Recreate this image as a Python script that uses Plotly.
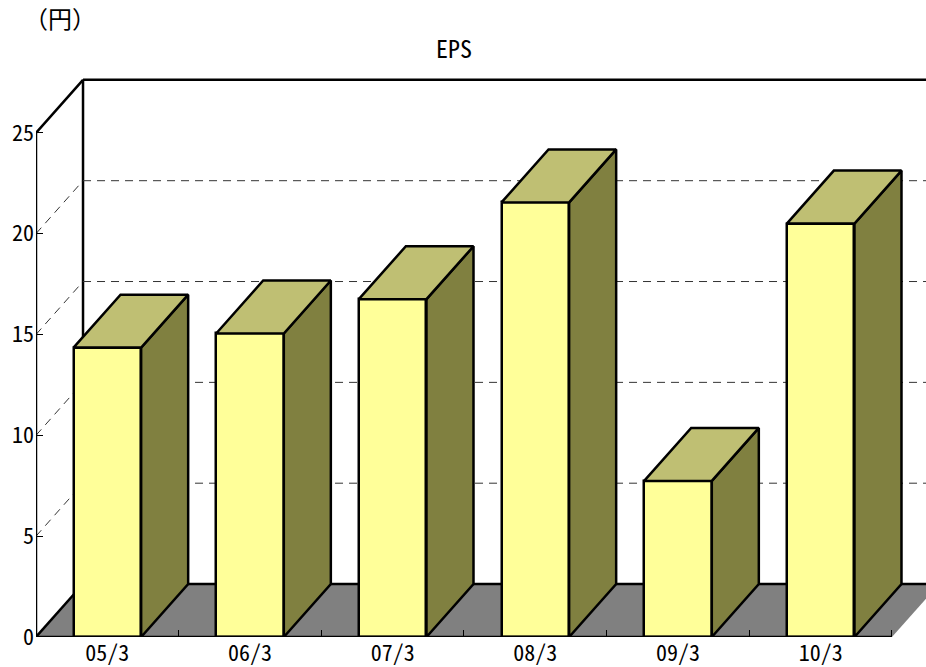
import plotly.graph_objects as go

categories = ["05/3", "06/3", "07/3", "08/3", "09/3", "10/3"]
eps_values = [14.35, 15.05, 16.75, 21.55, 7.74, 20.5]
y_ticks = [0, 5, 10, 15, 20, 25]

FONT = "Noto Sans Mono CJK JP, Noto Sans CJK JP"
PX_X = 142.6          # pixels per category
PX_Y = 20.18          # pixels per yen
DX = 47 / PX_X        # oblique depth, in x units
DY = 53 / PX_Y        # oblique depth, in y units
BAR_W = 67.6 / PX_X
X_LO, X_HI = -0.5, 5.5
LEFT, BOTTOM = 36.4, 29.6
W, H = 926, 667
LW = 2.5
x_max = X_LO + (W - LEFT) / PX_X
y_max = (H - BOTTOM) / PX_Y

idx = list(range(len(categories)))


def path(points):
    return "M" + " L".join(f"{x},{y}" for x, y in points) + " Z"


def seg(x0, y0, x1, y1, width=LW, dash="solid", color="black"):
    return dict(type="line", x0=x0, y0=y0, x1=x1, y1=y1, xref="x", yref="y", layer="below",
                line=dict(color=color, width=width, dash=dash))


top = y_ticks[-1]
shapes = [
    dict(type="path", xref="x", yref="y", layer="below", fillcolor="#808080", line=dict(width=0),
         path=path([(X_LO, 0), (X_HI, 0), (X_HI + DX, DY), (X_LO + DX, DY)])),
    seg(X_LO, 0, X_LO + DX, DY),
    seg(X_LO + DX, DY, x_max + 1, DY),
    seg(X_LO + DX, DY, X_LO + DX, top + DY),
    seg(X_LO + DX, top + DY, x_max + 1, top + DY),
]
for v in y_ticks[1:-1]:
    shapes.append(seg(X_LO + DX, v + DY, x_max + 1, v + DY, width=1, dash="8px,6px", color="#333333"))
    shapes.append(seg(X_LO, v, X_LO + DX, v + DY, width=1, dash="8px,6px", color="#333333"))

fig = go.Figure()

fig.add_trace(go.Bar(
    x=idx, y=eps_values, width=BAR_W, marker=dict(color="#FFFF99", line=dict(color="black", width=LW)),
    cliponaxis=False, showlegend=False, hoverinfo="skip",
))

for i, v in zip(idx, eps_values):
    xl, xr = i - BAR_W / 2, i + BAR_W / 2
    side_x = [xr, xr + DX, xr + DX, xr, xr]
    side_y = [0, DY, v + DY, v, 0]
    top_x = [xl, xr, xr + DX, xl + DX, xl]
    top_y = [v, v, v + DY, v + DY, v]
    fig.add_trace(go.Scatter(x=side_x, y=side_y, mode="lines", fill="toself", fillcolor="#808040",
                             line=dict(color="black", width=LW), cliponaxis=False,
                             showlegend=False, hoverinfo="skip"))
    fig.add_trace(go.Scatter(x=top_x, y=top_y, mode="lines", fill="toself", fillcolor="#BFBF73",
                             line=dict(color="black", width=LW), cliponaxis=False,
                             showlegend=False, hoverinfo="skip"))

# Left wall, its top slant and the front floor edge sit on the plot's border, so they are not clipped.
fig.add_trace(go.Scatter(x=[X_LO + DX, X_LO, X_LO, X_HI], y=[top + DY, top, 0, 0], mode="lines",
                         line=dict(color="black", width=LW), cliponaxis=False,
                         showlegend=False, hoverinfo="skip"))

fig.update_layout(
    width=W, height=H, autosize=False,
    margin=dict(l=LEFT, r=0, t=0, b=BOTTOM, pad=0),
    paper_bgcolor="white", plot_bgcolor="white",
    font=dict(family=FONT, size=22, color="black"),
    showlegend=False, shapes=shapes, bargap=0,
    title=dict(text="EPS", x=454 / W, y=1 - 50 / H, xanchor="center", yanchor="middle",
               font=dict(family=FONT, size=24, color="black")),
    xaxis=dict(range=[X_LO, x_max], tickvals=idx, ticktext=categories, ticks="outside", ticklen=0,
               showgrid=False, zeroline=False, showline=False, tickangle=0, ticklabelstandoff=-3,
               tickfont=dict(family=FONT, size=22),
               minor=dict(tickvals=[X_LO + k for k in range(len(categories) + 1)], ticks="inside",
                          ticklen=7, tickcolor="black", tickwidth=1, showgrid=False)),
    yaxis=dict(range=[0, y_max], tickvals=y_ticks, ticks="inside", ticklen=7, tickwidth=1,
               tickcolor="black", showgrid=False, zeroline=False, showline=False, ticklabelstandoff=1,
               tickfont=dict(family=FONT, size=22)),
    annotations=[dict(text="（円）", xref="paper", yref="paper", x=(60 - LEFT) / (W - LEFT),
                      y=(H - BOTTOM - 18) / (H - BOTTOM),
                      xanchor="center", yanchor="middle", showarrow=False,
                      font=dict(family=FONT, size=24, color="black"))],
)

fig.write_html("out.html", config={"displayModeBar": False},
               post_script="document.body.style.margin='0';")
